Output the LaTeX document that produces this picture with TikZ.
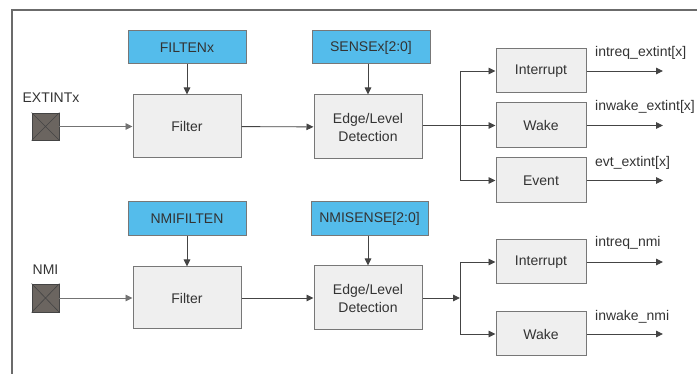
\documentclass[tikz,border=0pt]{standalone}
\usepackage{fontspec}
\setmainfont{Liberation Sans}
\usetikzlibrary{arrows.meta}
\definecolor{txt}{HTML}{333333}
\definecolor{blu}{HTML}{54BCEB}
\definecolor{boxfill}{HTML}{EFEFEF}
\definecolor{boxline}{HTML}{777777}
\definecolor{ln}{HTML}{444444}
\definecolor{padfill}{HTML}{6B6560}
\tikzset{
  every node/.style={text=txt, font=\fontsize{14pt}{18pt}\selectfont, inner sep=0pt},
  bluebox/.style={draw=boxline, line width=1pt, fill=blu, minimum width=118pt, minimum height=33pt},
  graybox/.style={draw=boxline, line width=1pt, fill=boxfill, align=center},
  padbox/.style={draw=ln, line width=0.8pt, fill=padfill, minimum width=27pt, minimum height=27pt},
  conn/.style={draw=ln, line width=0.9pt},
  arr/.style={conn, -{Triangle[length=7pt,width=6.5pt]}},
  lbl/.style={anchor=west}
}
\begin{document}
\begin{tikzpicture}[x=1pt,y=-1pt]
\useasboundingbox (0,0) rectangle (697,374);
\draw[draw=boxline!90!black, line width=1.4pt] (12,374) -- (12,10) -- (697,10);

% ---- top row ----
\node[bluebox] (filten) at (187,47.5) {FILTENx};
\node[graybox, minimum width=108pt, minimum height=63pt] (filt1) at (187,126.5) {Filter};
\node[padbox] (pad1) at (45.5,126.5) {};
\draw[ln, line width=0.6pt] (pad1.north west) -- (pad1.south east) (pad1.north east) -- (pad1.south west);
\node (extlbl) at (51,98) {EXTINTx};
\node[graybox, minimum width=108pt, minimum height=64pt] (edge1) at (368,127) {Edge/Level\\Detection};
\node[bluebox] (sense1) at (371,47.5) {SENSEx[2:0]};
\node[graybox, minimum width=90pt, minimum height=44pt] (int1) at (541,71) {Interrupt};
\node[graybox, minimum width=90pt, minimum height=45pt] (wake1) at (541,125.5) {Wake};
\node[graybox, minimum width=90pt, minimum height=45pt] (evt1) at (541,180.5) {Event};
\coordinate (j1) at (460,127);
\coordinate (o1) at (663,71);
\coordinate (o2) at (663,125.5);
\coordinate (o3) at (663,180.5);

\draw[arr] (filten) -- (filt1);
\draw[arr] (sense1.south -| edge1) -- (edge1);
\draw[arr, draw=ln!75] (pad1) -- (filt1);
\draw[arr] (filt1) -- (edge1);
\draw[arr] (edge1.east |- wake1) -- (wake1);
\draw[arr] (j1 |- int1) -- (int1);
\draw[arr] (j1 |- evt1) -- (evt1);
\draw[conn] (j1 |- int1) -- (j1 |- evt1);
\draw[arr] (int1) -- (o1);
\draw[arr] (wake1) -- (o2);
\draw[arr] (evt1) -- (o3);
\node[lbl] (l1) at (595,53) {intreq\_extint[x]};
\node[lbl] (l2) at (595,107) {inwake\_extint[x]};
\node[lbl] (l3) at (595,163) {evt\_extint[x]};

% ---- bottom row ----
\node[bluebox, minimum height=34pt] (nmifilten) at (187,219) {NMIFILTEN};
\node[graybox, minimum width=108pt, minimum height=62pt] (filt2) at (187,298) {Filter};
\node[padbox, minimum height=28pt] (pad2) at (45.5,298) {};
\draw[ln, line width=0.6pt] (pad2.north west) -- (pad2.south east) (pad2.north east) -- (pad2.south west);
\node (nmilbl) at (45.5,270) {NMI};
\node[graybox, minimum width=108pt, minimum height=64pt] (edge2) at (368,298) {Edge/Level\\Detection};
\node[bluebox, minimum width=117pt, minimum height=34pt] (nmisense) at (369.5,219) {NMISENSE[2:0]};
\node[graybox, minimum width=90pt, minimum height=44pt] (int2) at (541,262) {Interrupt};
\node[graybox, minimum width=90pt, minimum height=44pt] (wake2) at (541,334) {Wake};
\coordinate (j2) at (460,298);
\coordinate (o4) at (663,262);
\coordinate (o5) at (663,334);

\draw[arr] (nmifilten) -- (filt2);
\draw[arr] (nmisense.south -| edge2) -- (edge2);
\draw[arr, draw=ln!75] (pad2) -- (filt2);
\draw[arr] (filt2) -- (edge2);
\draw[arr] (edge2) -- (j2);
\draw[conn] (j2 |- int2) -- (j2 |- wake2);
\draw[arr] (j2 |- int2) -- (int2);
\draw[arr] (j2 |- wake2) -- (wake2);
\draw[arr] (int2) -- (o4);
\draw[arr] (wake2) -- (o5);
\node[lbl] (l4) at (595,243) {intreq\_nmi};
\node[lbl] (l5) at (595,317) {inwake\_nmi};
\end{tikzpicture}
\end{document}
